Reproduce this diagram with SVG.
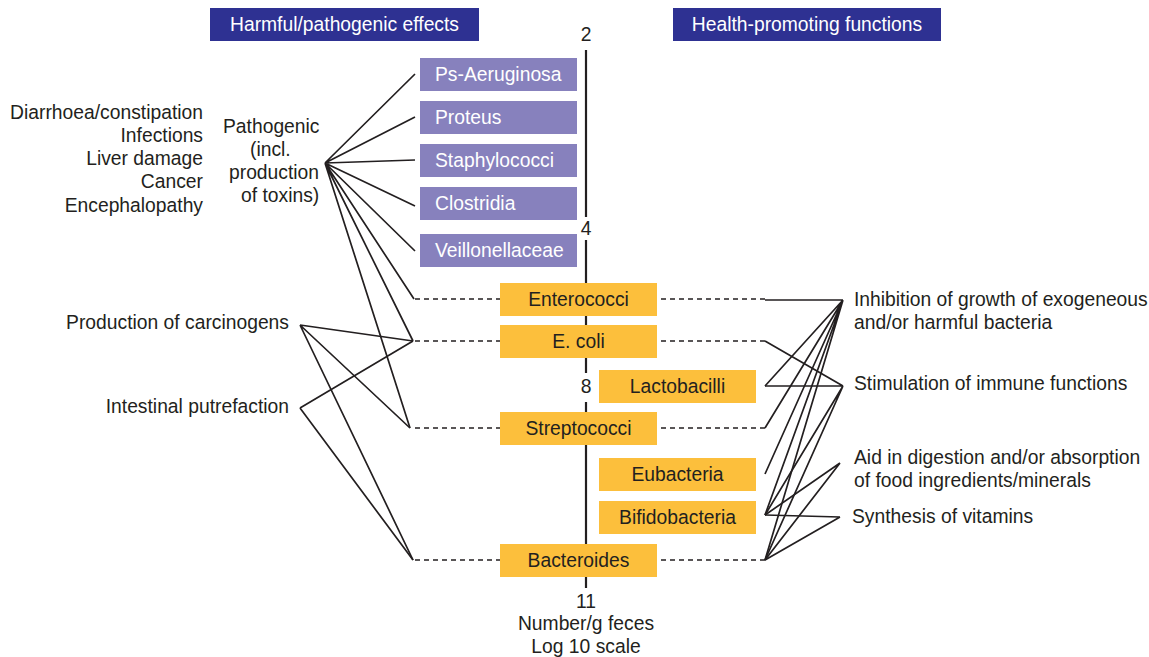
<svg xmlns="http://www.w3.org/2000/svg" width="1149" height="657" viewBox="0 0 1149 657">
<style>
text{font-family:"Liberation Sans",Arial,sans-serif;font-size:19.3px;fill:#231f20}
.hdr{fill:#2e3192}
.hdrt{fill:#fff;text-anchor:middle}
.pur{fill:#8781bd}
.purt{fill:#fff}
.org{fill:#fcbf3c}
.orgt{text-anchor:middle}
.ln{stroke:#231f20;stroke-width:1.7;fill:none}
.dash{stroke:#231f20;stroke-width:1.7;stroke-dasharray:5 4;fill:none}
.axis{stroke:#231f20;stroke-width:2.2;fill:none}
.r{text-anchor:end}
.m{text-anchor:middle}
</style>
<g id="header-harmful"><rect class="hdr" x="210" y="8" width="269" height="33"/><text class="hdrt" x="344.5" y="31">Harmful/pathogenic effects</text></g>
<g id="header-health"><rect class="hdr" x="673" y="8" width="268" height="33"/><text class="hdrt" x="807" y="31">Health-promoting functions</text></g>
<g id="axis">
<line class="axis" x1="586" y1="50" x2="586" y2="217"/>
<line class="axis" x1="586" y1="240" x2="586" y2="283"/>
<line class="axis" x1="586" y1="316" x2="586" y2="325"/>
<line class="axis" x1="586" y1="358" x2="586" y2="373"/>
<line class="axis" x1="586" y1="402" x2="586" y2="412"/>
<line class="axis" x1="586" y1="445" x2="586" y2="544"/>
<line class="axis" x1="586" y1="577" x2="586" y2="588"/>
<text class="m" x="586" y="41">2</text>
<text class="m" x="586" y="235">4</text>
<text class="m" x="586" y="393">8</text>
<text class="m" x="586" y="608">11</text>
<text class="m" x="586" y="630">Number/g feces</text>
<text class="m" x="586" y="653">Log 10 scale</text>
</g>
<g id="connectors">
<line class="dash" x1="415" y1="299" x2="500" y2="299"/>
<line class="dash" x1="415" y1="341" x2="500" y2="341"/>
<line class="dash" x1="415" y1="428" x2="500" y2="428"/>
<line class="dash" x1="415" y1="560" x2="500" y2="560"/>
<line class="dash" x1="661" y1="299" x2="765" y2="299"/>
<line class="dash" x1="661" y1="341" x2="765" y2="341"/>
<line class="dash" x1="661" y1="428" x2="765" y2="428"/>
<line class="dash" x1="661" y1="560" x2="765" y2="560"/>
<path class="ln" d="M325 163L415 74M325 163L415 117M325 163L415 160M325 163L415 206M325 163L415 251M325 163L414 299M325 163L413 341M325 163L410 428"/>
<path class="ln" d="M300 325L413 341M300 325L410 428M300 325L413 560"/>
<path class="ln" d="M300 408L413 341M300 408L413 560"/>
<path class="ln" d="M765 300L843 300M765 386L843 300M765 428L843 300M765 474L843 300M765 515L843 300M765 560L843 300"/>
<path class="ln" d="M765 341L843 386M765 386L843 386M765 515L843 386M765 560L843 386"/>
<path class="ln" d="M765 515L840 463M765 560L840 463"/>
<path class="ln" d="M765 515L840 517M765 560L840 517"/>
</g>
<g id="ps-aeruginosa"><rect class="pur" x="420" y="58" width="157" height="33"/><text class="purt" x="435" y="81">Ps-Aeruginosa</text></g>
<g id="proteus"><rect class="pur" x="420" y="101" width="157" height="33"/><text class="purt" x="435" y="124">Proteus</text></g>
<g id="staphylococci"><rect class="pur" x="420" y="144" width="157" height="33"/><text class="purt" x="435" y="167">Staphylococci</text></g>
<g id="clostridia"><rect class="pur" x="420" y="187" width="157" height="33"/><text class="purt" x="435" y="210">Clostridia</text></g>
<g id="veillonellaceae"><rect class="pur" x="420" y="234" width="157" height="33"/><text class="purt" x="435" y="257">Veillonellaceae</text></g>
<g id="enterococci"><rect class="org" x="500" y="283" width="157" height="33"/><text class="orgt" x="578.5" y="306">Enterococci</text></g>
<g id="ecoli"><rect class="org" x="500" y="325" width="157" height="33"/><text class="orgt" x="578.5" y="348">E. coli</text></g>
<g id="lactobacilli"><rect class="org" x="599" y="370" width="157" height="33"/><text class="orgt" x="677.5" y="393">Lactobacilli</text></g>
<g id="streptococci"><rect class="org" x="500" y="412" width="157" height="33"/><text class="orgt" x="578.5" y="435">Streptococci</text></g>
<g id="eubacteria"><rect class="org" x="599" y="458" width="157" height="33"/><text class="orgt" x="677.5" y="481">Eubacteria</text></g>
<g id="bifidobacteria"><rect class="org" x="599" y="501" width="157" height="33"/><text class="orgt" x="677.5" y="524">Bifidobacteria</text></g>
<g id="bacteroides"><rect class="org" x="500" y="544" width="157" height="33"/><text class="orgt" x="578.5" y="567">Bacteroides</text></g>
<g id="diseases">
<text class="r" x="203" y="119">Diarrhoea/constipation</text>
<text class="r" x="203" y="142">Infections</text>
<text class="r" x="203" y="165">Liver damage</text>
<text class="r" x="203" y="188">Cancer</text>
<text class="r" x="203" y="212">Encephalopathy</text>
</g>
<g id="pathogenic">
<text x="223" y="133">Pathogenic</text>
<text x="250" y="156">(incl.</text>
<text x="229" y="179">production</text>
<text x="241" y="202">of toxins)</text>
</g>
<g id="carcinogens"><text class="r" x="289" y="329">Production of carcinogens</text></g>
<g id="putrefaction"><text class="r" x="289" y="413">Intestinal putrefaction</text></g>
<g id="inhibition"><text x="854" y="306">Inhibition of growth of exogeneous</text><text x="854" y="329">and/or harmful bacteria</text></g>
<g id="stimulation"><text x="854" y="390">Stimulation of immune functions</text></g>
<g id="aid"><text x="854" y="464">Aid in digestion and/or absorption</text><text x="854" y="487">of food ingredients/minerals</text></g>
<g id="synthesis"><text x="852" y="523">Synthesis of vitamins</text></g>
</svg>
